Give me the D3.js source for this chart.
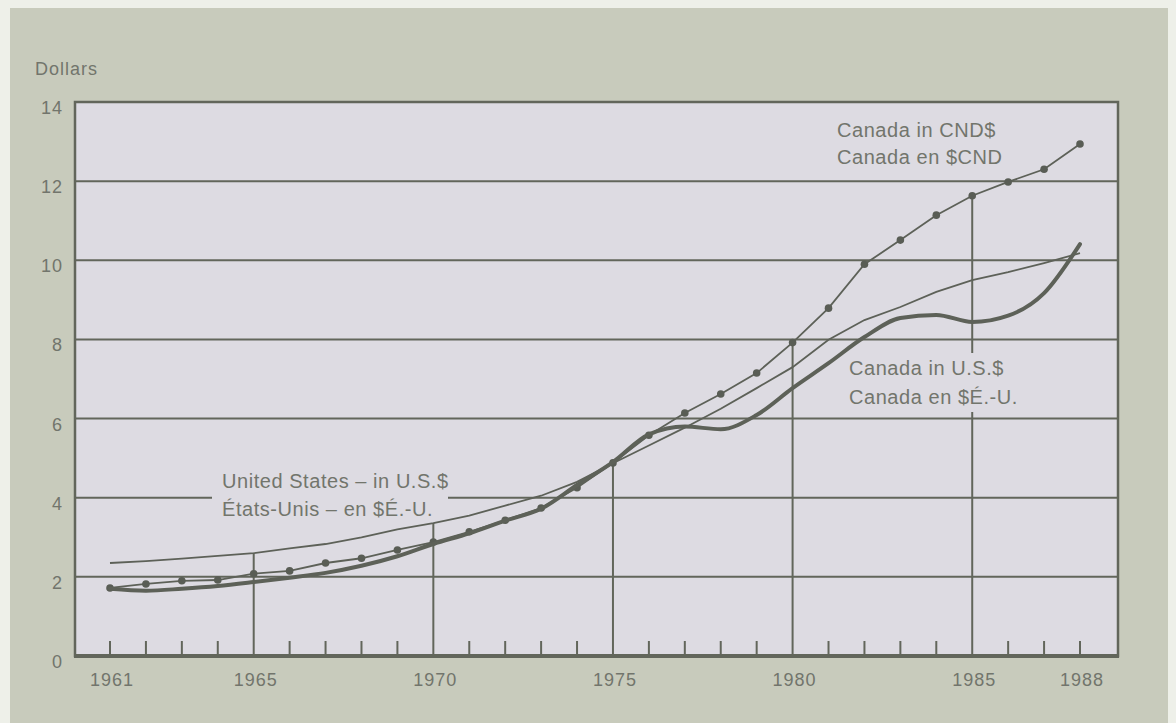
<!DOCTYPE html>
<html>
<head>
<meta charset="utf-8">
<script src="https://cdn.jsdelivr.net/npm/d3@7"></script>
<style>
  html, body { margin: 0; padding: 0; background: #eceee6; }
  svg { display: block; }
  text { font-family: "Liberation Sans", Arial, Helvetica, sans-serif; fill: #72756c; }
</style>
</head>
<body>
<svg id="chart" width="1176" height="723"></svg>
<script>
// ---- data ----
const years = [1961,1962,1963,1964,1965,1966,1967,1968,1969,1970,1971,1972,1973,1974,
               1975,1976,1977,1978,1979,1980,1981,1982,1983,1984,1985,1986,1987,1988];
const unitedStatesUSD = [2.35,2.40,2.46,2.53,2.60,2.72,2.83,3.00,3.20,3.36,3.55,3.80,4.05,4.40,
                         4.87,5.32,5.77,6.25,6.77,7.30,7.99,8.49,8.82,9.20,9.50,9.70,9.93,10.18];
const canadaCND = [1.72,1.82,1.90,1.92,2.08,2.15,2.35,2.47,2.68,2.88,3.14,3.43,3.74,4.25,
                   4.88,5.58,6.14,6.62,7.15,7.92,8.79,9.90,10.51,11.14,11.63,11.98,12.30,12.94];
const canadaUSD = [1.70,1.65,1.70,1.77,1.87,1.98,2.10,2.28,2.52,2.83,3.10,3.42,3.72,4.32,
                   4.90,5.60,5.80,5.73,6.09,6.77,7.40,8.06,8.54,8.62,8.44,8.60,9.17,10.41];
const yTicks = [0,2,4,6,8,10,12,14];
const xLabels = [1961,1965,1970,1975,1980,1985,1988];
const dropYears = [1965,1970,1975,1980,1985];
const yAxisTitle = "Dollars";
const labelUS = ["United States – in U.S.$", "États-Unis – en $É.-U."];
const labelCND = ["Canada in CND$", "Canada en $CND"];
const labelCUSD = ["Canada in U.S.$", "Canada en $É.-U."];

// ---- layout ----
const svg = d3.select("#chart");
const plot = {left: 75, top: 102, right: 1118, bottom: 656};
const x = d3.scaleLinear().domain([1961, 1988]).range([110, 1080]);
const y = d3.scaleLinear().domain([0, 14]).range([plot.bottom, plot.top]);

const ink = "#62665b";
const plotFill = "#dddbe2";

// panel
svg.append("rect").attr("x", 0).attr("y", 0).attr("width", 1176).attr("height", 723).attr("fill", "#eef0e9");
svg.append("rect").attr("x", 10).attr("y", 8).attr("width", 1158).attr("height", 715).attr("fill", "#c8cbbc");

// plot area
svg.append("rect").attr("x", plot.left).attr("y", plot.top)
  .attr("width", plot.right - plot.left).attr("height", plot.bottom - plot.top)
  .attr("fill", plotFill);

// horizontal grid
svg.append("g").selectAll("line").data(yTicks.filter(d => d > 0 && d < 14)).join("line")
  .attr("x1", plot.left).attr("x2", plot.right)
  .attr("y1", d => y(d)).attr("y2", d => y(d))
  .attr("stroke", ink).attr("stroke-width", 2);

// minor ticks at each year
svg.append("g").selectAll("line").data(years.filter(d => !dropYears.includes(d))).join("line")
  .attr("x1", d => x(d)).attr("x2", d => x(d))
  .attr("y1", plot.bottom).attr("y2", plot.bottom - 15)
  .attr("stroke", ink).attr("stroke-width", 2);

// drop lines from highest series value to axis
svg.append("g").selectAll("line").data(dropYears).join("line")
  .attr("x1", d => x(d)).attr("x2", d => x(d))
  .attr("y1", plot.bottom)
  .attr("y2", d => {
    const i = years.indexOf(d);
    return y(Math.max(unitedStatesUSD[i], canadaCND[i], canadaUSD[i]));
  })
  .attr("stroke", ink).attr("stroke-width", 2);

// label masks
svg.append("rect").attr("x", 212).attr("y", 462).attr("width", 236).attr("height", 60).attr("fill", plotFill);
svg.append("rect").attr("x", 842).attr("y", 353).attr("width", 178).attr("height", 59).attr("fill", plotFill);

// frame
svg.append("rect").attr("x", plot.left).attr("y", plot.top)
  .attr("width", plot.right - plot.left).attr("height", plot.bottom - plot.top)
  .attr("fill", "none").attr("stroke", ink).attr("stroke-width", 2.5);
svg.append("line").attr("x1", plot.left - 1).attr("x2", plot.right + 1)
  .attr("y1", plot.bottom).attr("y2", plot.bottom)
  .attr("stroke", ink).attr("stroke-width", 4);

// series
const pts = arr => years.map((yr, i) => [yr, arr[i]]);
const lineLin = d3.line().x(d => x(d[0])).y(d => y(d[1]));
const lineSmooth = d3.line().x(d => x(d[0])).y(d => y(d[1])).curve(d3.curveMonotoneX);

svg.append("path").attr("d", lineLin(pts(unitedStatesUSD)))
  .attr("fill", "none").attr("stroke", "#5d6158").attr("stroke-width", 1.8);
svg.append("path").attr("d", lineLin(pts(canadaCND)))
  .attr("fill", "none").attr("stroke", "#5d6158").attr("stroke-width", 1.8);
svg.append("g").selectAll("circle").data(pts(canadaCND)).join("circle")
  .attr("cx", d => x(d[0])).attr("cy", d => y(d[1])).attr("r", 3.8)
  .attr("fill", "#595d55");
svg.append("path").attr("d", lineSmooth(pts(canadaUSD)))
  .attr("fill", "none").attr("stroke", "#5d6158").attr("stroke-width", 4)
  .attr("stroke-linejoin", "round").attr("stroke-linecap", "round");

// axis labels
svg.append("text").attr("x", 35).attr("y", 75).attr("font-size", 18)
  .attr("letter-spacing", 1).text(yAxisTitle);
svg.append("g").selectAll("text").data(yTicks).join("text")
  .attr("x", 63).attr("y", d => y(d) + 12).attr("text-anchor", "end")
  .attr("font-size", 18).attr("letter-spacing", 1).text(d => d);
svg.append("g").selectAll("text").data(xLabels).join("text")
  .attr("x", d => x(d) + 2).attr("y", 686).attr("text-anchor", "middle")
  .attr("font-size", 18).attr("letter-spacing", 1).text(d => d);

// series labels
function label(lines, x0, y0, gap) {
  svg.append("g").selectAll("text").data(lines).join("text")
    .attr("x", x0).attr("y", (d, i) => y0 + i * gap)
    .attr("font-size", 20).attr("letter-spacing", 0.55).text(d => d);
}
label(labelUS, 222, 488, 28);
label(labelCND, 837, 137, 27);
label(labelCUSD, 849, 375, 29);
</script>
</body>
</html>
